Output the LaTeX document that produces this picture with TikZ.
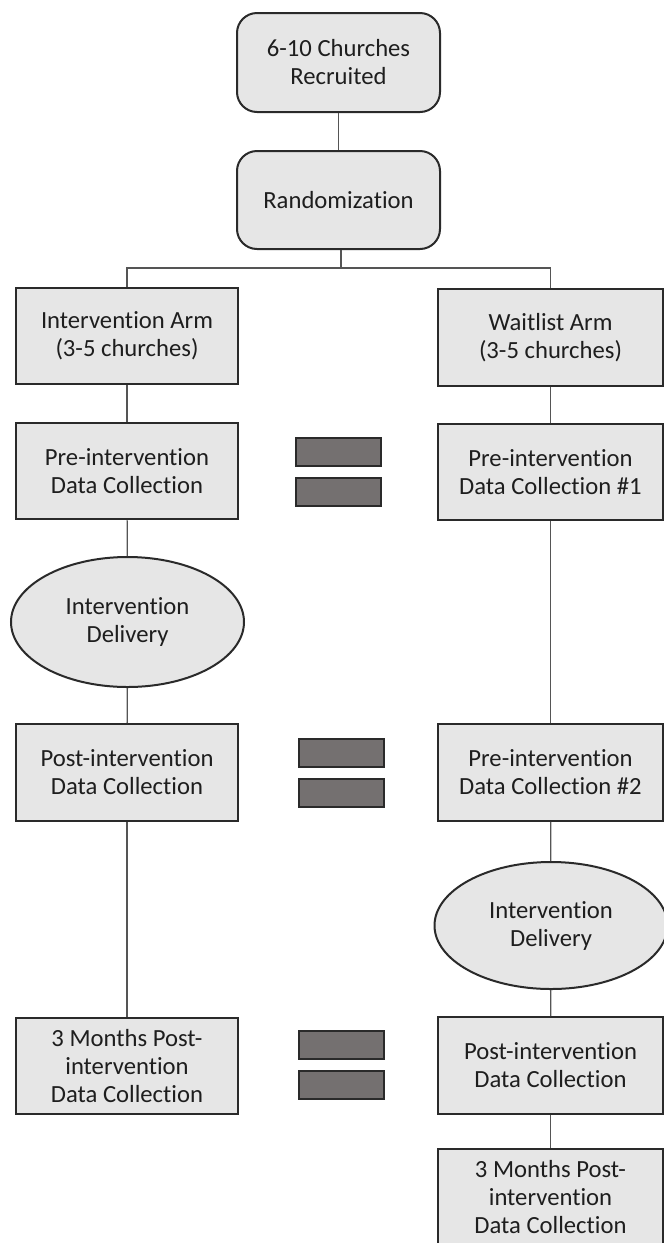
\documentclass[tikz,border=0pt]{standalone}
\usepackage{fontspec}
\setmainfont{Carlito}[Ligatures=NoCommon]
\usetikzlibrary{shapes.geometric}
\definecolor{boxfill}{HTML}{E6E6E6}
\definecolor{boxline}{HTML}{2A2A2A}
\definecolor{linkline}{HTML}{555555}
\definecolor{barfill}{HTML}{747070}
\definecolor{txt}{HTML}{1E1E1E}
\begin{document}
\begin{tikzpicture}[x=0.75pt,y=-0.75pt,
  base/.style={draw=boxline,line width=1.5pt,fill=boxfill,inner sep=0pt,align=center,
    text=txt,font=\fontsize{18.5pt}{21pt}\selectfont},
  roundbox/.style={base,rounded corners=15pt,minimum width=152.25pt},
  stagebox/.style={base,minimum width=166.5pt,minimum height=72.5pt},
  waitbox/.style={base,minimum width=168.75pt,minimum height=72.5pt},
  deliv/.style={base,ellipse,minimum width=174.75pt},
  link/.style={draw=linkline,line width=1pt},
  eqbar/.style={draw=boxline,line width=1.2pt,fill=barfill}]
\useasboundingbox (0,0) rectangle (664,1243);

% top of the flow
\node[roundbox,minimum height=74.25pt] (rec) at (338.5,62.5) {6-10 Churches\\Recruited};
\node[roundbox,minimum height=73.5pt] (rand) at (338.5,200) {Randomization};

% intervention arm
\node[stagebox] (ia) at (127,336) {Intervention Arm\\(3-5 churches)};
\node[stagebox] (ipre) at (127,471) {Pre-intervention\\Data Collection};
\node[deliv,minimum height=97.5pt] (ideliv) at (127.5,622) {Intervention\\Delivery};
\node[stagebox] (ipost) at (127,772.5) {Post-intervention\\Data Collection};
\node[stagebox] (i3m) at (127,1066) {3 Months Post-\\intervention\\Data Collection};

% waitlist arm
\node[waitbox] (wa) at (550.5,337.5) {Waitlist Arm\\(3-5 churches)};
\node[waitbox] (wpre1) at (550.5,472) {Pre-intervention\\Data Collection \#1};
\node[waitbox] (wpre2) at (550.5,772.5) {Pre-intervention\\Data Collection \#2};
\node[deliv,minimum height=95.25pt] (wdeliv) at (551,925.5) {Intervention\\Delivery};
\node[waitbox] (wpost) at (550.5,1065.5) {Post-intervention\\Data Collection};
\node[waitbox] (w3m) at (550.5,1197) {3 Months Post-\\intervention\\Data Collection};

% branching point below the randomization
\coordinate (split) at (341,268);

% connectors
\draw[link] (rec) -- (rand);
\draw[link] (rand.south -| split) -- (split);
\draw[link] (ia.north) -- (ia.north |- split) -- (wa.north |- split) -- (wa.north);
\draw[link] (ia) -- (ipre);
\draw[link] (ipre) -- (ideliv);
\draw[link] (ideliv) -- (ipost);
\draw[link] (ipost) -- (i3m);
\draw[link] (wa) -- (wpre1);
\draw[link] (wpre1) -- (wpre2);
\draw[link] (wpre2) -- (wdeliv);
\draw[link] (wdeliv) -- (wpost);
\draw[link] (wpost) -- (w3m);

% equal signs between the arms
\draw[eqbar] (296,438) rectangle (381,466);
\draw[eqbar] (296,478) rectangle (381,506);
\draw[eqbar] (299,739) rectangle (384,767);
\draw[eqbar] (299,779) rectangle (384,807);
\draw[eqbar] (299,1031) rectangle (384,1059);
\draw[eqbar] (299,1071) rectangle (384,1099);
\end{tikzpicture}
\end{document}
